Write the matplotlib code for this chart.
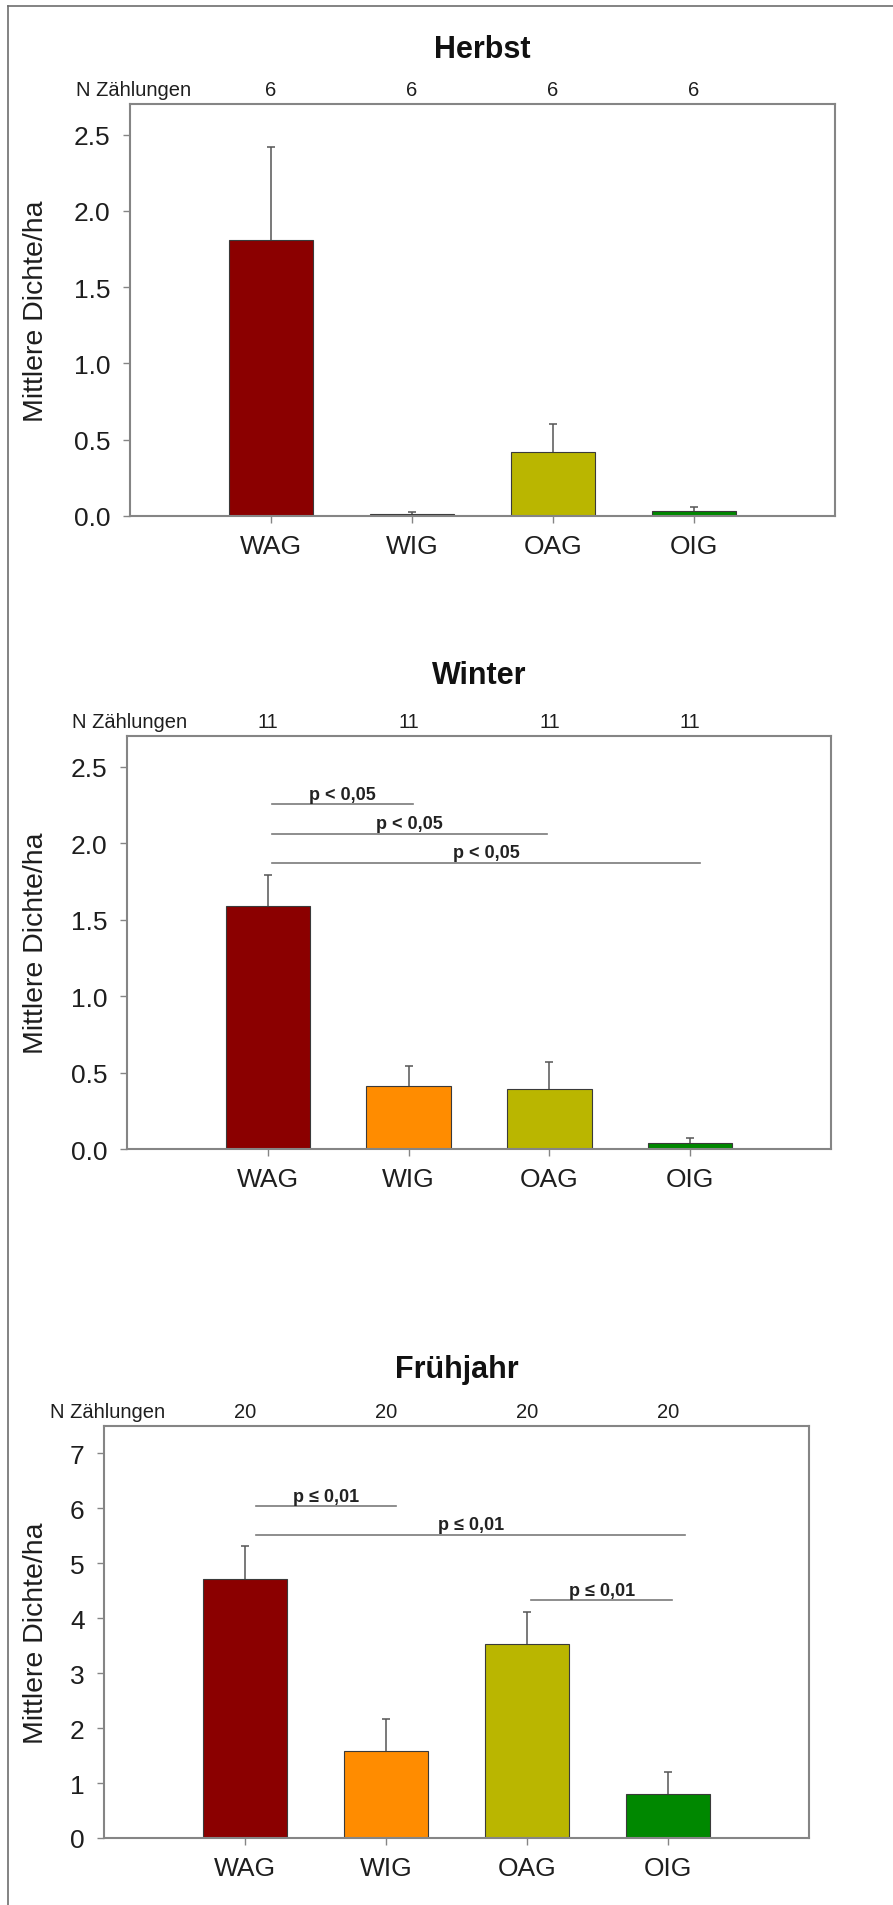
import matplotlib.pyplot as plt
from matplotlib.lines import Line2D

plt.rcParams['font.family'] = ['Liberation Sans', 'DejaVu Sans']

# Groups and bar colours
groups = ['WAG', 'WIG', 'OAG', 'OIG']
bar_colors = ['#8b0000', '#ff8c00', '#bab600', '#008800']

# Herbst (autumn)
herbst_mean = [1.81, 0.015, 0.42, 0.03]
herbst_se = [0.605, 0.01, 0.18, 0.03]
herbst_n = [6, 6, 6, 6]
herbst_yticks = [0.0, 0.5, 1.0, 1.5, 2.0, 2.5]

# Winter
winter_mean = [1.59, 0.415, 0.39, 0.036]
winter_se = [0.20, 0.125, 0.18, 0.034]
winter_n = [11, 11, 11, 11]
winter_yticks = [0.0, 0.5, 1.0, 1.5, 2.0, 2.5]
# significance bars: (x start, x end, height)
winter_sig = [(0.03, 1.03, 2.254), (0.03, 1.98, 2.06), (0.03, 3.07, 1.87)]
winter_sig_label = 'p < 0,05'

# Fruehjahr (spring)
fruehjahr_mean = [4.71, 1.58, 3.53, 0.80]
fruehjahr_se = [0.61, 0.59, 0.58, 0.41]
fruehjahr_n = [20, 20, 20, 20]
fruehjahr_yticks = [0, 1, 2, 3, 4, 5, 6, 7]
fruehjahr_sig = [(0.08, 1.07, 6.04), (0.08, 3.12, 5.52), (2.03, 3.03, 4.33)]
fruehjahr_sig_label = 'p \u2264 0,01'

W, H = 893, 1906
fig = plt.figure(figsize=(W / 100, H / 100), dpi=100)

# outer frame (left and top edges visible)
fig.add_artist(Line2D([8 / W, 8 / W], [0, 1 - 7 / H], transform=fig.transFigure,
                      color='#6e6e6e', lw=1.2))
fig.add_artist(Line2D([8 / W, 1], [1 - 7 / H, 1 - 7 / H], transform=fig.transFigure,
                      color='#6e6e6e', lw=1.2))


def draw_panel(box, title, title_base, means, se, counts, yticks, ymax, tick_fmt,
               sig=None, sig_label=''):
    left, top, right, bottom = box
    ax = fig.add_axes([left / W, 1 - bottom / H, (right - left) / W, (bottom - top) / H])
    x = list(range(len(groups)))
    ax.bar(x, means, width=0.6, color=bar_colors, edgecolor='#3a3a3a', linewidth=0.8, zorder=2)
    _, caps, _ = ax.errorbar(x, means, yerr=[[0] * len(means), se], fmt='none',
                             ecolor='#555555', elinewidth=1.1, capsize=3.2, capthick=1.1,
                             zorder=1)
    caps[0].set_visible(False)  # upper error only
    ax.set_xlim(-1, 4)
    ax.set_ylim(0, ymax)
    ax.set_xticks(x, groups)
    ax.set_yticks(yticks, [tick_fmt.format(v) for v in yticks])
    for sp in ax.spines.values():
        sp.set_color('#858585')
        sp.set_linewidth(1.5)
    ax.tick_params(axis='both', direction='out', length=5, width=1, color='#858585',
                   labelsize=19, labelcolor='#1e1e1e')
    ax.tick_params(axis='y', pad=9)
    ax.tick_params(axis='x', pad=8)

    ax.set_ylabel('Mittlere Dichte/ha', fontsize=20.5, color='#1e1e1e')
    ax.yaxis.set_label_coords(49 / W, 1 - (top + bottom) / 2 / H, transform=fig.transFigure)

    fig.text((left + right) / 2 / W, 1 - title_base / H, title, ha='center', va='baseline',
             fontsize=22, fontweight='bold', color='#111111')

    ax.annotate('N Zählungen', xy=(-0.57, 1), xycoords=('data', 'axes fraction'),
                xytext=(0, 6.5), textcoords='offset points', ha='right', va='baseline',
                fontsize=14.5, color='#1e1e1e', annotation_clip=False)
    for xi, n in zip(x, counts):
        ax.annotate(str(n), xy=(xi, 1), xycoords=('data', 'axes fraction'),
                    xytext=(0, 6.5), textcoords='offset points', ha='center', va='baseline',
                    fontsize=14.5, color='#1e1e1e', annotation_clip=False)

    if sig:
        for x0, x1, y in sig:
            ax.plot([x0, x1], [y, y], color='#7a7a7a', lw=1.2, zorder=3)
            ax.annotate(sig_label, xy=((x0 + x1) / 2, y), xytext=(0, 4),
                        textcoords='offset points', ha='center', va='baseline',
                        fontsize=13, fontweight='bold', color='#222222')
    return ax


draw_panel((130, 105, 835, 517), 'Herbst', 58, herbst_mean, herbst_se, herbst_n,
           herbst_yticks, 2.7, '{:.1f}')
draw_panel((127, 737, 831, 1150), 'Winter', 684, winter_mean, winter_se, winter_n,
           winter_yticks, 2.7, '{:.1f}', winter_sig, winter_sig_label)
draw_panel((104, 1427, 809, 1839), 'Frühjahr', 1378, fruehjahr_mean, fruehjahr_se,
           fruehjahr_n, fruehjahr_yticks, 7.5, '{:d}', fruehjahr_sig, fruehjahr_sig_label)

fig.savefig('out.png', dpi=100)
